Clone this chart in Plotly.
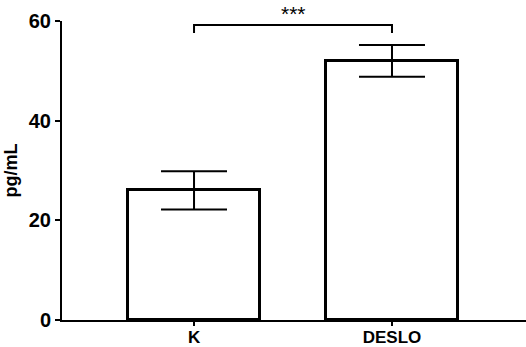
import plotly.graph_objects as go

categories = ["K", "DESLO"]
means = [26.0, 52.0]
errors = [3.85, 3.2]
y_ticks = [0, 20, 40, 60]
sig_label = "***"
sig_low, sig_high = 57.6, 59.2

xpos = list(range(len(categories)))

fig = go.Figure()
fig.add_trace(go.Bar(
    x=xpos, y=means, width=0.667,
    marker=dict(color="white", line=dict(color="black", width=3)),
    error_y=dict(type="data", array=errors, visible=True, color="black",
                 thickness=2, width=33),
    showlegend=False,
))

# significance bracket
fig.add_trace(go.Scatter(
    x=[xpos[0], xpos[0], xpos[1], xpos[1]],
    y=[sig_low, sig_high, sig_high, sig_low],
    mode="lines", line=dict(color="black", width=2),
    showlegend=False, hoverinfo="skip", cliponaxis=False,
))
fig.add_annotation(x=(xpos[0] + xpos[1]) / 2, y=sig_high, text=sig_label,
                   showarrow=False, yanchor="bottom", yshift=-2,
                   font=dict(family="Liberation Sans, Arial", size=21, color="black"))

font = dict(family="Liberation Sans, Arial", size=18, color="black")
fig.update_layout(
    width=526, height=347,
    margin=dict(l=62, r=0, t=21, b=27),
    plot_bgcolor="white", paper_bgcolor="white",
    font=font,
    xaxis=dict(range=[-0.667, 1.677], tickvals=xpos,
               ticktext=[f"<b>{c}</b>" for c in categories],
               showline=True, linecolor="black", linewidth=2,
               ticks="outside", ticklen=4, tickwidth=2, tickcolor="black",
               showgrid=False, zeroline=False, tickfont=dict(size=17),
               ticklabelstandoff=-3, automargin=False),
    yaxis=dict(range=[0, 60], tickvals=y_ticks,
               ticktext=[f"<b>{v}</b>" for v in y_ticks],
               showline=True, linecolor="black", linewidth=2,
               ticks="outside", ticklen=5, tickwidth=2, tickcolor="black",
               showgrid=False, zeroline=False, tickfont=dict(size=20),
               automargin=False,
               title=dict(text="<b>pg/mL</b>", font=dict(size=18), standoff=6)),
    bargap=0,
)

fig.write_html("out.html")
